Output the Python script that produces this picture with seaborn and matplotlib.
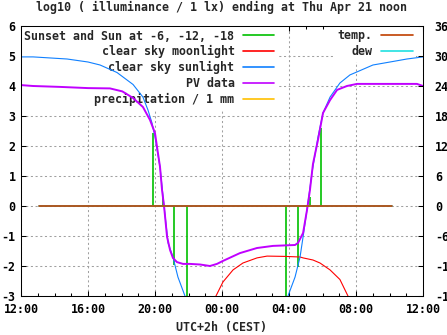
import matplotlib
matplotlib.use("Agg")
import matplotlib.pyplot as plt
import seaborn as sns
import pandas as pd
from matplotlib.lines import Line2D
from matplotlib.ticker import MultipleLocator, FixedLocator

# ---------------- data (hours since Wed 12:00, log10 lux) ----------------
pv_hours = [0.00, 0.72, 2.33, 4.00, 5.31, 6.05, 6.69, 7.28, 7.70, 8.00, 8.12, 8.30,
            8.42, 8.54, 8.72, 8.90, 9.07, 9.31, 9.67, 10.09, 10.69, 11.28, 11.70,
            12.06, 13.07, 14.09, 15.04, 16.36, 16.54, 16.84, 17.07, 17.25, 17.43,
            17.73, 18.03, 18.45, 18.87, 19.46, 20.06, 23.64, 24.00]
pv_log = [4.03, 4.00, 3.97, 3.93, 3.92, 3.82, 3.60, 3.30, 2.87, 2.43, 1.97, 1.30,
          0.53, 0.00, -1.03, -1.47, -1.73, -1.87, -1.93, -1.93, -1.95, -2.00, -1.93,
          -1.83, -1.57, -1.40, -1.33, -1.30, -1.23, -0.90, -0.15, 0.53, 1.40,
          2.20, 3.10, 3.53, 3.87, 4.00, 4.07, 4.07, 4.00]

sun_eve_hours = [0.00, 0.72, 2.75, 4.00, 4.72, 5.73, 6.33, 6.69, 7.28, 7.58, 7.82,
                 8.00, 8.30, 8.54, 8.78, 9.07, 9.37, 9.79, 10.09]
sun_eve_log = [4.97, 4.97, 4.90, 4.80, 4.70, 4.45, 4.20, 4.05, 3.63, 3.20, 2.77,
               2.30, 1.30, 0.00, -1.23, -1.70, -2.37, -3.00, -3.40]

sun_morn_hours = [15.76, 15.94, 16.36, 16.66, 16.84, 17.13, 17.37, 17.73, 18.03,
                  18.45, 19.04, 19.64, 20.06, 21.01, 22.03, 23.04, 24.00]
sun_morn_log = [-3.40, -3.00, -2.37, -1.70, -1.03, 0.10, 1.10, 2.30, 3.10,
                3.63, 4.10, 4.37, 4.47, 4.70, 4.80, 4.90, 4.97]

moon_hours = [11.50, 11.64, 12.06, 12.66, 13.25, 14.09, 14.69, 15.76, 16.66,
              16.84, 17.43, 17.85, 18.45, 19.04, 19.52, 19.65]
moon_log = [-3.40, -3.00, -2.53, -2.13, -1.90, -1.73, -1.67, -1.68, -1.70,
            -1.73, -1.80, -1.90, -2.13, -2.45, -3.00, -3.30]

twilight_hours = [7.88, 8.48, 9.13, 9.91, 15.82, 16.54, 17.25, 17.91]
twilight_log = [2.45, 0.30, -1.97, -3.50, -3.50, -2.03, 0.30, 2.60]

temp_hours = [1.07, 6.0, 12.0, 18.0, 22.15]
temp_c = [0, 0, 0, 0, 0]
dew_c = [0, 0, 0, 0, 0]

x_tick_hours = [0, 4, 8, 12, 16, 20, 24]
x_tick_labels = ["12:00", "16:00", "20:00", "00:00", "04:00", "08:00", "12:00"]
y_ticks = [-3, -2, -1, 0, 1, 2, 3, 4, 5, 6]
y2_ticks = [-18, -12, -6, 0, 6, 12, 18, 24, 30, 36]

title = "log10 ( illuminance / 1 lx) ending at Thu Apr 21 noon"
xlabel = "UTC+2h (CEST)"

C_GREEN = "#00c000"
C_RED = "#ff0000"
C_BLUE = "#1080ff"
C_PURPLE = "#c000ff"
C_PREC = "#ffc000"
C_TEMP = "#c04000"
C_DEW = "#20e0e0"

# ---------------- style ----------------
sns.set_theme(style="white")
plt.rcParams['font.family'] = ['DejaVu Sans Mono']
plt.rcParams['font.weight'] = 'bold'
FS = 8.4
plt.rcParams['font.size'] = FS
plt.rcParams['axes.edgecolor'] = 'black'
plt.rcParams['axes.linewidth'] = 0.75
plt.rcParams['xtick.color'] = 'black'
plt.rcParams['ytick.color'] = 'black'

W, H = 447, 335
fig = plt.figure(figsize=(W / 100, H / 100), dpi=100)
L, R, T, B = 21, 423, 26, 296
ax = fig.add_axes([L / W, 1 - B / H, (R - L) / W, (B - T) / H])
ax.set_axisbelow(True)

# ---------------- marks ----------------
ax.vlines(twilight_hours, 0, twilight_log, color=C_GREEN, lw=1.2, zorder=2)
sns.lineplot(x=moon_hours, y=moon_log, ax=ax, color=C_RED, lw=0.8,
             estimator=None, sort=False, zorder=2.1)
sns.lineplot(x=sun_eve_hours, y=sun_eve_log, ax=ax, color=C_BLUE, lw=0.8,
             estimator=None, sort=False, zorder=2.2)
sns.lineplot(x=sun_morn_hours, y=sun_morn_log, ax=ax, color=C_BLUE, lw=0.8,
             estimator=None, sort=False, zorder=2.2)
sns.lineplot(x=pv_hours, y=pv_log, ax=ax, color=C_PURPLE, lw=1.4,
             estimator=None, sort=False, zorder=2.3)

ax.set_xlim(0, 24)
ax.set_ylim(-3, 6)

ax2 = ax.twinx()
ax2.set_position(ax.get_position())
sns.lineplot(x=temp_hours, y=dew_c, ax=ax2, color=C_DEW, lw=1.2,
             estimator=None, sort=False, zorder=2)
sns.lineplot(x=temp_hours, y=temp_c, ax=ax2, color=C_TEMP, lw=1.2,
             estimator=None, sort=False, zorder=2.1)
ax2.set_ylim(-18, 36)
ax2.set_xlim(0, 24)

# ---------------- axes ----------------
ax.xaxis.set_major_locator(FixedLocator(x_tick_hours))
ax.set_xticklabels(x_tick_labels)
ax.xaxis.set_minor_locator(MultipleLocator(1))
ax.yaxis.set_major_locator(FixedLocator(y_ticks))
ax.set_yticklabels([str(v) for v in y_ticks])
ax.tick_params(axis='x', which='major', direction='in', top=True, bottom=True,
               length=3.8, width=0.75, pad=5, labelsize=FS)
ax.tick_params(axis='x', which='minor', direction='in', top=True, bottom=True,
               length=1.9, width=0.75)
ax.tick_params(axis='y', which='major', direction='in', left=True, right=False,
               length=3.8, width=0.75, pad=4, labelsize=FS)
ax.set_xlabel("")
ax.set_ylabel("")

ax2.yaxis.set_major_locator(FixedLocator(y2_ticks))
ax2.set_yticklabels([str(v) for v in y2_ticks])
ax2.tick_params(axis='y', which='major', direction='in', right=True, left=False,
                length=3.8, width=0.75, pad=8.5, labelsize=FS)
ax2.set_ylabel("")
for sp in ax2.spines.values():
    sp.set_visible(False)
for sp in ax.spines.values():
    sp.set_color('black')
    sp.set_linewidth(0.75)

ax.grid(True, which='major', color='#a0a0a0', linestyle=(0, (2, 2.5)), linewidth=0.75)

# ---------------- legends ----------------
h_left = [Line2D([], [], color=C_GREEN, lw=1.2),
          Line2D([], [], color=C_RED, lw=1.2),
          Line2D([], [], color=C_BLUE, lw=1.2),
          Line2D([], [], color=C_PURPLE, lw=1.2),
          Line2D([], [], color=C_PREC, lw=1.2)]
l_left = ["Sunset and Sun at -6, -12, -18", "clear sky moonlight",
          "clear sky sunlight", "PV data", "precipitation / 1 mm"]
leg1 = ax.legend(h_left, l_left, loc='upper left', bbox_to_anchor=(0, 1),
                 borderaxespad=0, borderpad=0.3, markerfirst=False,
                 handlelength=2.7, handletextpad=0.7, labelspacing=0.24,
                 frameon=True, fancybox=False, framealpha=1, edgecolor='none',
                 facecolor='white', fontsize=FS)
leg1.set_zorder(1)
ax.add_artist(leg1)

h_right = [Line2D([], [], color=C_TEMP, lw=1.2), Line2D([], [], color=C_DEW, lw=1.2)]
leg2 = ax.legend(h_right, ["temp.", "dew"], loc='upper right',
                 bbox_to_anchor=((416 - L) / (R - L), 1),
                 borderaxespad=0, borderpad=0.3, markerfirst=False,
                 handlelength=2.7, handletextpad=0.7, labelspacing=0.24,
                 frameon=True, fancybox=False, framealpha=1, edgecolor='none',
                 facecolor='white', fontsize=FS)
leg2.set_zorder(1)

fig.text((L + R) / 2 / W, 1 - 7 / H, title, ha='center', va='center', fontsize=FS)
fig.text((L + R) / 2 / W, 1 - 327 / H, xlabel, ha='center', va='center', fontsize=FS)

fig.savefig("out.png", dpi=100)
